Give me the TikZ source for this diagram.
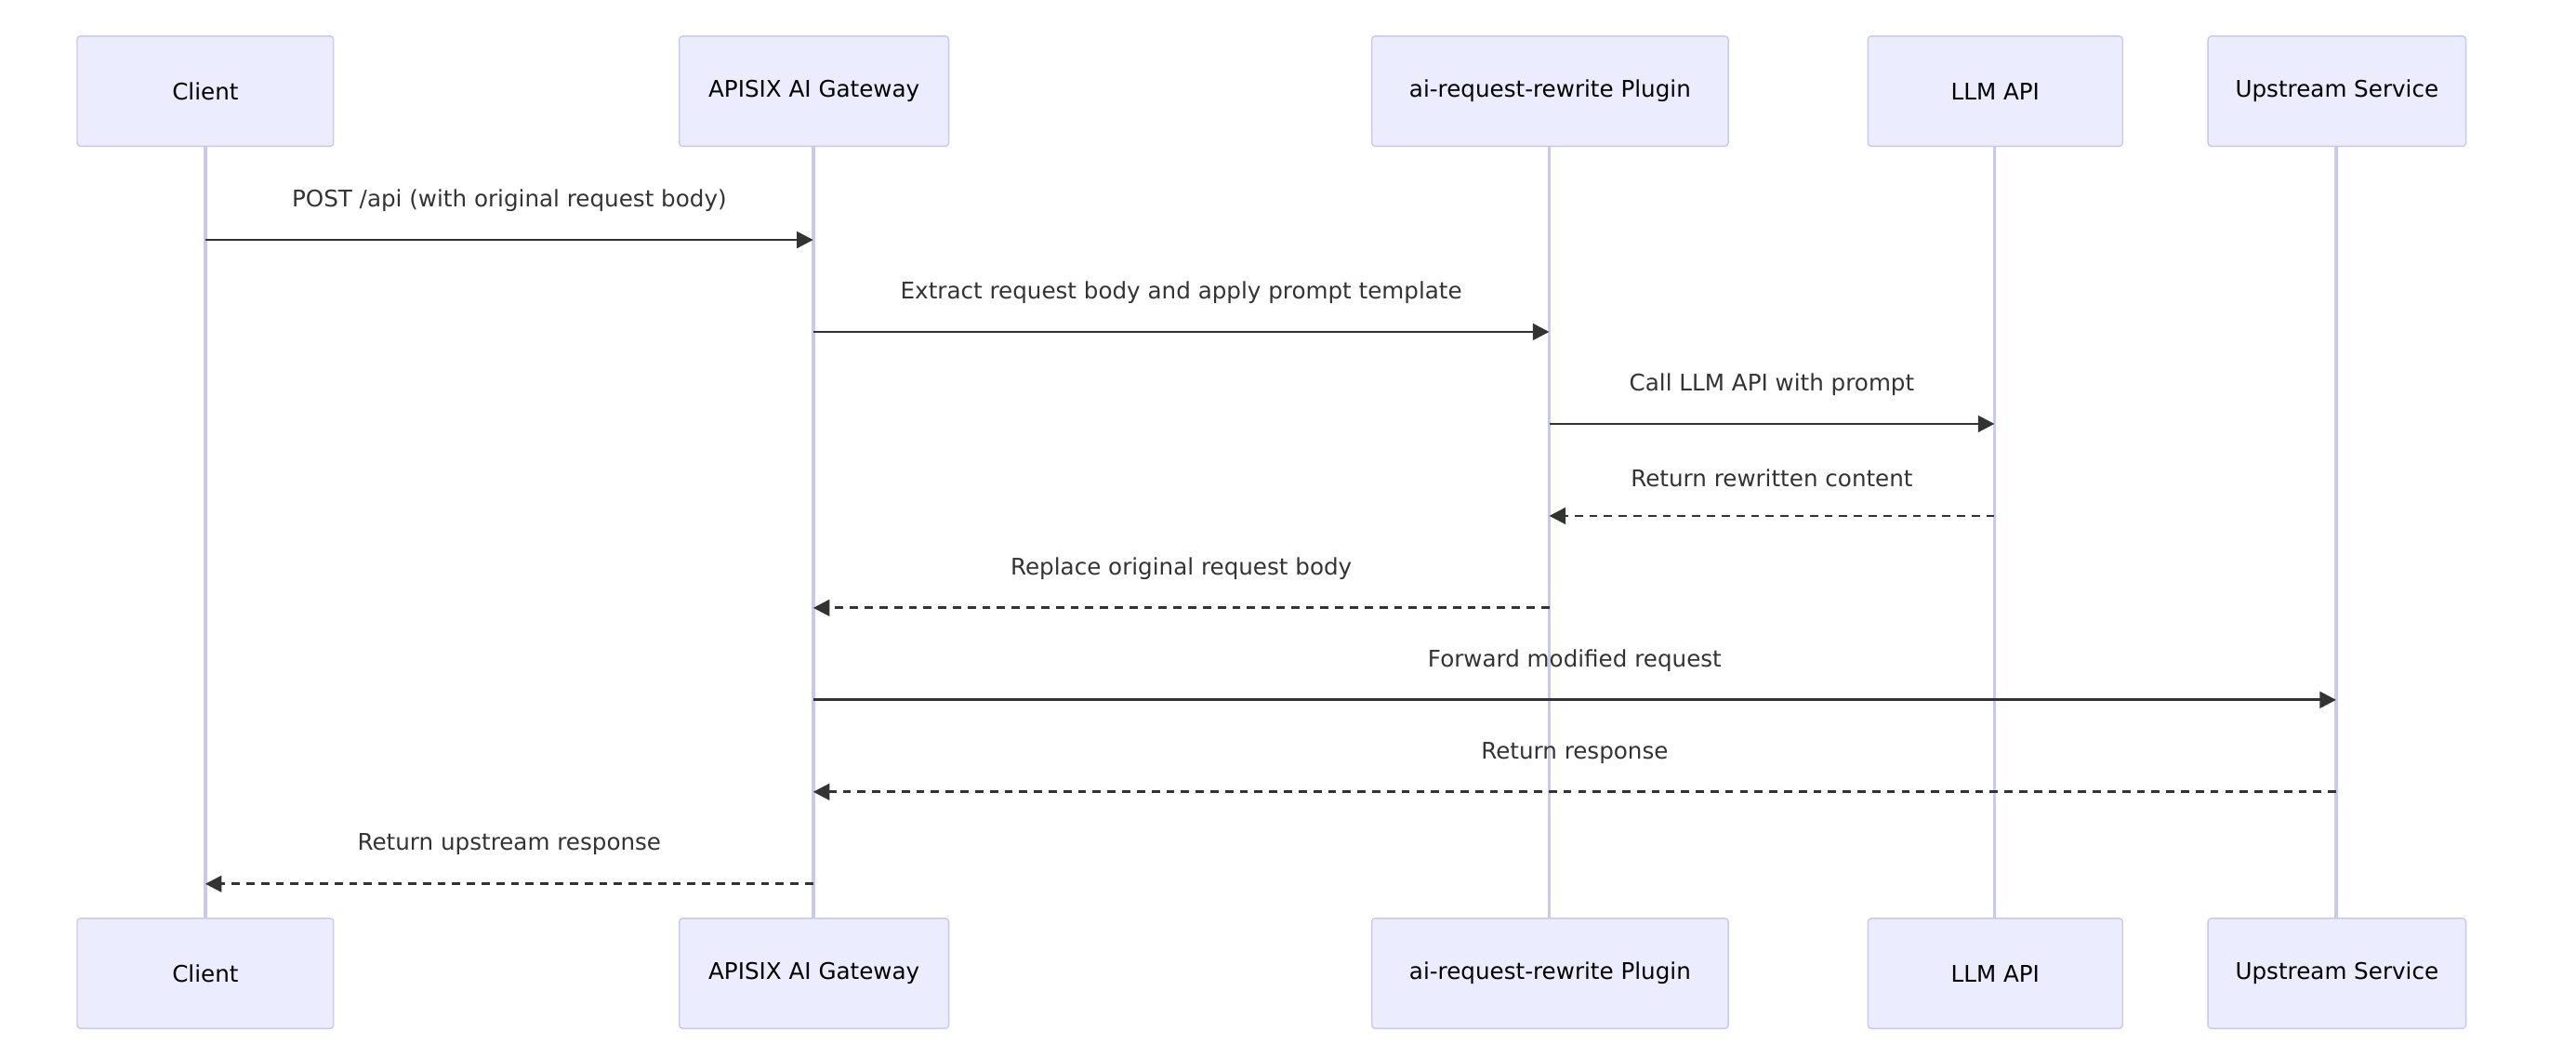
\documentclass[tikz,border=0pt]{standalone}
\usepackage{fontspec}
\setmainfont{DejaVu Sans}
\usetikzlibrary{arrows.meta}
\definecolor{actorfill}{HTML}{ECECFF}
\definecolor{actorline}{HTML}{C8C8F0}
\definecolor{msgline}{HTML}{333333}
\tikzset{
  actor/.style={rectangle, draw=actorline, fill=actorfill, rounded corners=1pt,
    minimum height=1.184cm, inner sep=0pt, font=\fontsize{7}{9}\selectfont},
  msg/.style={draw=msgline, thick, -{Triangle[length=5pt,width=5pt]}},
  reply/.style={msg, dashed, dash pattern=on 2.5pt off 2pt},
  lbl/.style={above=5pt, font=\fontsize{7}{9}\selectfont, text=msgline}
}
\begin{document}
\begin{tikzpicture}[x=0.01767cm, y=-0.01767cm]
\useasboundingbox (0,0) rectangle (1568,643);

% lifelines
\foreach \x in {125,495,943,1214,1422}
  \draw[actorline, line width=1pt] (\x,89) -- (\x,559);

% actors, top and bottom
\foreach \y/\s in {55.5/t,592.5/b} {
  \node[actor, minimum width=2.757cm] (client\s) at (125,\y) {Client};
  \node[actor, minimum width=2.898cm] (gateway\s) at (495.5,\y) {APISIX AI Gateway};
  \node[actor, minimum width=3.834cm] (plugin\s) at (943.5,\y) {ai-request-rewrite Plugin};
  \node[actor, minimum width=2.739cm] (llm\s) at (1214.5,\y) {LLM API};
  \node[actor, minimum width=2.774cm] (upstream\s) at (1422.5,\y) {Upstream Service};
}

% message anchors
\foreach \n/\x in {c/125,g/495,p/943,l/1214,u/1422}
  \foreach \i/\y in {1/146,2/202,3/258,4/314,5/370,6/426,7/482,8/538}
    \coordinate (\n\i) at (\x,\y);

\draw[msg] (c1) -- node[lbl] {POST /api (with original request body)} (g1);
\draw[msg] (g2) -- node[lbl] {Extract request body and apply prompt template} (p2);
\draw[msg] (p3) -- node[lbl] {Call LLM API with prompt} (l3);
\draw[reply] (l4) -- node[lbl] {Return rewritten content} (p4);
\draw[reply] (p5) -- node[lbl] {Replace original request body} (g5);
\draw[msg] (g6) -- node[lbl] {Forward modified request} (u6);
\draw[reply] (u7) -- node[lbl] {Return response} (g7);
\draw[reply] (g8) -- node[lbl] {Return upstream response} (c8);
\end{tikzpicture}
\end{document}
